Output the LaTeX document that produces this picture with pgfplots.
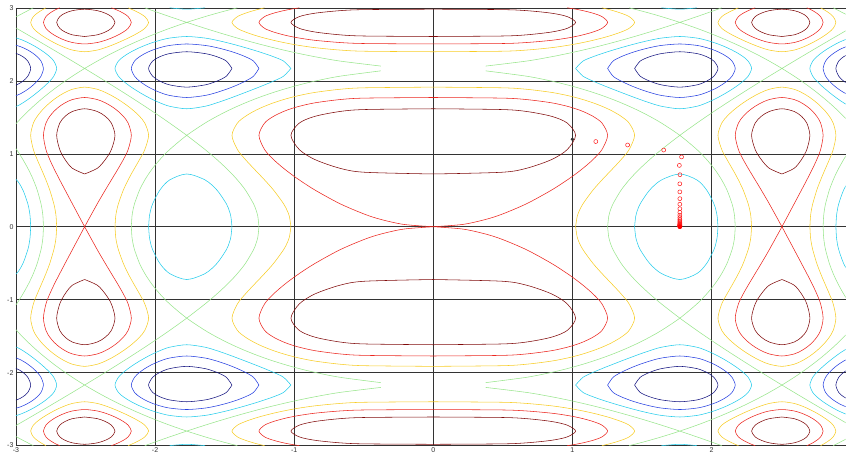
\documentclass[border=0pt]{standalone}
\usepackage{fontspec}
\setmainfont{Liberation Sans}
\usepackage{pgfplots}
\usepackage{pgfplotstable}
\pgfplotsset{compat=1.18}
\definecolor{lvA}{rgb}{0.08,0.08,0.5}
\definecolor{lvB}{rgb}{0.15,0.25,0.88}
\definecolor{lvC}{rgb}{0.15,0.8,0.92}
\definecolor{lvD}{rgb}{0.6,0.9,0.55}
\definecolor{lvE}{rgb}{0.97,0.8,0.15}
\definecolor{lvF}{rgb}{0.92,0.15,0.12}
\definecolor{lvG}{rgb}{0.5,0.04,0.04}

% level 1.5
\pgfplotstableread{
x y
0 0.72360
0.49552 0.74743
0.67159 0.80218
0.85014 0.92090
0.96296 1.05819
1.02333 1.25331
0.96296 1.42191
0.85014 1.51444
0.67159 1.58054
0.49552 1.60715
0 1.61802
nan nan
0 2.60898
0.49552 2.61569
0.67159 2.63186
0.85014 2.67044
0.96296 2.72084
1.02333 2.80250
0.96296 2.88184
0.85014 2.92860
0.67159 2.96332
0.49552 2.97760
0 2.98349
nan nan
2.50663 0.72360
2.41499 0.80218
2.35806 0.92090
2.31428 1.05819
2.28823 1.25331
2.31428 1.42191
2.35806 1.51444
2.41499 1.58054
2.50663 1.61802
2.59504 1.58054
2.64687 1.51444
2.68524 1.42191
2.70747 1.25331
2.68524 1.05819
2.64687 0.92090
2.59504 0.80218
2.50663 0.72360
nan nan
2.50663 2.60898
2.41499 2.63186
2.35806 2.67044
2.31428 2.72084
2.28823 2.80250
2.31428 2.88184
2.35806 2.92860
2.41499 2.96332
2.50663 2.98349
2.59504 2.96332
2.64687 2.92860
2.68524 2.88184
2.70747 2.80250
2.68524 2.72084
2.64687 2.67044
2.59504 2.63186
2.50663 2.60898
}\levG

% level -1.5
\pgfplotstableread{
x y
1.44720 2.17080
1.48805 2.27232
1.55527 2.33134
1.64030 2.37480
1.77245 2.39991
1.89542 2.37480
1.96578 2.33134
2.01715 2.27232
2.04666 2.17080
2.01715 2.06431
1.96578 1.99741
1.89542 1.94553
1.77245 1.91447
1.64030 1.94553
1.55527 1.99741
1.48805 2.06431
1.44720 2.17080
nan nan
3.06998 1.91447
2.99562 1.94553
2.94992 1.99741
2.91505 2.06431
2.89440 2.17080
2.91505 2.27232
2.94992 2.33134
2.99562 2.37480
3.06998 2.39991
}\levA

% level 1
\pgfplotstableread{
x y
0 0
0.21148 0.03162
0.37622 0.10000
0.49552 0.17322
0.67159 0.31650
0.85014 0.50267
0.96296 0.64150
1.02333 0.72360
1.07670 0.80218
1.14810 0.92090
1.21270 1.05819
1.25331 1.25331
1.21270 1.42191
1.14810 1.51444
1.07670 1.58054
1.02333 1.61802
0.96296 1.65229
0.85014 1.69968
0.67159 1.74397
0.49552 1.76397
0 1.77245
nan nan
0 2.50663
0.49552 2.51261
0.67159 2.52653
0.85014 2.55654
0.96296 2.58741
1.02333 2.60898
1.07670 2.63186
1.14810 2.67044
1.21270 2.72084
1.25331 2.80250
1.21270 2.88184
1.14810 2.92860
1.07670 2.96332
1.02333 2.98349
0.96296 3.00221
nan nan
2.50663 0
2.41499 0.31650
2.35806 0.50267
2.31428 0.64150
2.28823 0.72360
2.26361 0.80218
2.22825 0.92090
2.19376 1.05819
2.17080 1.25331
2.19376 1.42191
2.22825 1.51444
2.26361 1.58054
2.28823 1.61802
2.31428 1.65229
2.35806 1.69968
2.41499 1.74397
2.50663 1.77245
2.59504 1.74397
2.64687 1.69968
2.68524 1.65229
2.70747 1.61802
2.72809 1.58054
2.75705 1.51444
2.78457 1.42191
2.80250 1.25331
2.78457 1.05819
2.75705 0.92090
2.72809 0.80218
2.70747 0.72360
2.68524 0.64150
2.64687 0.50267
2.59504 0.31650
2.50663 0
nan nan
2.31428 3.00221
2.28823 2.98349
2.26361 2.96332
2.22825 2.92860
2.19376 2.88184
2.17080 2.80250
2.19376 2.72084
2.22825 2.67044
2.26361 2.63186
2.28823 2.60898
2.31428 2.58741
2.35806 2.55654
2.41499 2.52653
2.50663 2.50663
2.59504 2.52653
2.64687 2.55654
2.68524 2.58741
2.70747 2.60898
2.72809 2.63186
2.75705 2.67044
2.78457 2.72084
2.80250 2.80250
2.78457 2.88184
2.75705 2.92860
2.72809 2.96332
2.70747 2.98349
2.68524 3.00221
}\levF

% level -1
\pgfplotstableread{
x y
1.25331 2.17080
1.29266 2.27232
1.35036 2.33134
1.40795 2.37480
1.44720 2.39991
1.48805 2.42315
1.55527 2.45571
1.64030 2.48657
1.77245 2.50663
1.89542 2.48657
1.96578 2.45571
2.01715 2.42315
2.04666 2.39991
2.07386 2.37480
2.11180 2.33134
2.14761 2.27232
2.17080 2.17080
2.14761 2.06431
2.11180 1.99741
2.07386 1.94553
2.04666 1.91447
2.01715 1.88497
1.96578 1.84235
1.89542 1.80049
1.77245 1.77245
1.64030 1.80049
1.55527 1.84235
1.48805 1.88497
1.44720 1.91447
1.40795 1.94553
1.35036 1.99741
1.29266 2.06431
1.25331 2.17080
nan nan
3.06998 1.77245
2.99562 1.80049
2.94992 1.84235
2.91505 1.88497
2.89440 1.91447
2.87498 1.94553
2.84722 1.99741
2.82031 2.06431
2.80250 2.17080
2.82031 2.27232
2.84722 2.33134
2.87498 2.37480
2.89440 2.39991
2.91505 2.42315
2.94992 2.45571
2.99562 2.48657
3.06998 2.50663
}\levB

% level 0.5
\pgfplotstableread{
x y
1.02333 0
1.03448 0.14142
1.05073 0.22365
1.07670 0.31650
1.14810 0.50267
1.21270 0.64150
1.25331 0.72360
1.29266 0.80218
1.35036 0.92090
1.40795 1.05819
1.44720 1.25331
1.40795 1.42191
1.35036 1.51444
1.29266 1.58054
1.25331 1.61802
1.21270 1.65229
1.14810 1.69968
1.07670 1.74397
1.02333 1.77245
0.96296 1.80049
0.85014 1.84235
0.67159 1.88497
0.49552 1.90548
0 1.91447
nan nan
0 2.39991
0.49552 2.40706
0.67159 2.42315
0.85014 2.45571
0.96296 2.48657
1.02333 2.50663
1.07670 2.52653
1.14810 2.55654
1.21270 2.58741
1.25331 2.60898
1.29266 2.63186
1.35036 2.67044
1.40795 2.72084
1.44720 2.80250
1.40795 2.88184
1.35036 2.92860
1.29266 2.96332
1.25331 2.98349
1.21270 3.00221
nan nan
2.28823 0
2.28321 0.14142
2.27578 0.22365
2.26361 0.31650
2.22825 0.50267
2.19376 0.64150
2.17080 0.72360
2.14761 0.80218
2.11180 0.92090
2.07386 1.05819
2.04666 1.25331
2.07386 1.42191
2.11180 1.51444
2.14761 1.58054
2.17080 1.61802
2.19376 1.65229
2.22825 1.69968
2.26361 1.74397
2.28823 1.77245
2.31428 1.80049
2.35806 1.84235
2.41499 1.88497
2.50663 1.91447
2.59504 1.88497
2.64687 1.84235
2.68524 1.80049
2.70747 1.77245
2.72809 1.74397
2.75705 1.69968
2.78457 1.65229
2.80250 1.61802
2.82031 1.58054
2.84722 1.51444
2.87498 1.42191
2.89440 1.25331
2.87498 1.05819
2.84722 0.92090
2.82031 0.80218
2.80250 0.72360
2.78457 0.64150
2.75705 0.50267
2.72809 0.31650
2.71795 0.22365
2.71171 0.14142
2.70747 0
nan nan
2.19376 3.00221
2.17080 2.98349
2.14761 2.96332
2.11180 2.92860
2.07386 2.88184
2.04666 2.80250
2.07386 2.72084
2.11180 2.67044
2.14761 2.63186
2.17080 2.60898
2.19376 2.58741
2.22825 2.55654
2.26361 2.52653
2.28823 2.50663
2.31428 2.48657
2.35806 2.45571
2.41499 2.42315
2.50663 2.39991
2.59504 2.42315
2.64687 2.45571
2.68524 2.48657
2.70747 2.50663
2.72809 2.52653
2.75705 2.55654
2.78457 2.58741
2.80250 2.60898
2.82031 2.63186
2.84722 2.67044
2.87498 2.72084
2.89440 2.80250
2.87498 2.88184
2.84722 2.92860
2.82031 2.96332
2.80250 2.98349
2.78457 3.00221
}\levE

% level -0.5
\pgfplotstableread{
x y
1.44720 0
1.45522 0.14142
1.46736 0.22365
1.48805 0.31650
1.55527 0.50267
1.64030 0.64150
1.77245 0.72360
1.89542 0.64150
1.96578 0.50267
2.01715 0.31650
2.03225 0.22365
2.04097 0.14142
2.04666 0
nan nan
1.02333 2.17080
1.07670 2.27232
1.14810 2.33134
1.21270 2.37480
1.25331 2.39991
1.29266 2.42315
1.35036 2.45571
1.40795 2.48657
1.44720 2.50663
1.48805 2.52653
1.55527 2.55654
1.64030 2.58741
1.77245 2.60898
1.89542 2.58741
1.96578 2.55654
2.01715 2.52653
2.04666 2.50663
2.07386 2.48657
2.11180 2.45571
2.14761 2.42315
2.17080 2.39991
2.19376 2.37480
2.22825 2.33134
2.26361 2.27232
2.28823 2.17080
2.26361 2.06431
2.22825 1.99741
2.19376 1.94553
2.17080 1.91447
2.14761 1.88497
2.11180 1.84235
2.07386 1.80049
2.04666 1.77245
2.01715 1.74397
1.96578 1.69968
1.89542 1.65229
1.77245 1.61802
1.64030 1.65229
1.55527 1.69968
1.48805 1.74397
1.44720 1.77245
1.40795 1.80049
1.35036 1.84235
1.29266 1.88497
1.25331 1.91447
1.21270 1.94553
1.14810 1.99741
1.07670 2.06431
1.02333 2.17080
nan nan
1.64030 3.00221
1.77245 2.98349
1.89542 3.00221
nan nan
3.06998 0.72360
2.99562 0.64150
2.94992 0.50267
2.91505 0.31650
2.90454 0.22365
2.89842 0.14142
2.89440 0
nan nan
3.06998 1.61802
2.99562 1.65229
2.94992 1.69968
2.91505 1.74397
2.89440 1.77245
2.87498 1.80049
2.84722 1.84235
2.82031 1.88497
2.80250 1.91447
2.78457 1.94553
2.75705 1.99741
2.72809 2.06431
2.70747 2.17080
2.72809 2.27232
2.75705 2.33134
2.78457 2.37480
2.80250 2.39991
2.82031 2.42315
2.84722 2.45571
2.87498 2.48657
2.89440 2.50663
2.91505 2.52653
2.94992 2.55654
2.99562 2.58741
3.06998 2.60898
}\levC

% level 0
\pgfplotstableread{
x y
1.25331 0
1.26127 0.14142
1.27311 0.22365
1.29266 0.31650
1.35036 0.50267
1.40795 0.64150
1.44720 0.72360
1.48805 0.80218
1.55527 0.92090
1.64030 1.05819
1.77245 1.25331
1.89542 1.42191
1.96578 1.51444
2.01715 1.58054
2.04666 1.61802
2.07386 1.65229
2.11180 1.69968
2.14761 1.74397
2.17080 1.77245
2.19376 1.80049
2.22825 1.84235
2.26361 1.88497
2.28823 1.91447
2.31428 1.94553
2.35806 1.99741
2.41499 2.06431
2.50663 2.17080
2.59504 2.27232
2.64687 2.33134
2.68524 2.37480
2.70747 2.39991
2.72809 2.42315
2.75705 2.45571
2.78457 2.48657
2.80250 2.50663
2.82031 2.52653
2.84722 2.55654
2.87498 2.58741
2.89440 2.60898
2.91505 2.63186
2.94992 2.67044
2.99562 2.72084
3.06998 2.80250
nan nan
0.37622 2.13796
0.67159 2.06431
0.85014 1.99741
0.96296 1.94553
1.02333 1.91447
1.07670 1.88497
1.14810 1.84235
1.21270 1.80049
1.25331 1.77245
1.29266 1.74397
1.35036 1.69968
1.40795 1.65229
1.44720 1.61802
1.48805 1.58054
1.55527 1.51444
1.64030 1.42191
1.77245 1.25331
1.89542 1.05819
1.96578 0.92090
2.01715 0.80218
2.04666 0.72360
2.07386 0.64150
2.11180 0.50267
2.14761 0.31650
2.15925 0.22365
2.16619 0.14142
2.17080 0
nan nan
0.37622 2.20316
0.67159 2.27232
0.85014 2.33134
0.96296 2.37480
1.02333 2.39991
1.07670 2.42315
1.14810 2.45571
1.21270 2.48657
1.25331 2.50663
1.29266 2.52653
1.35036 2.55654
1.40795 2.58741
1.44720 2.60898
1.48805 2.63186
1.55527 2.67044
1.64030 2.72084
1.77245 2.80250
1.89542 2.88184
1.96578 2.92860
2.01715 2.96332
2.04666 2.98349
2.07386 3.00221
nan nan
1.40795 3.00221
1.44720 2.98349
1.48805 2.96332
1.55527 2.92860
1.64030 2.88184
1.77245 2.80250
1.89542 2.72084
1.96578 2.67044
2.01715 2.63186
2.04666 2.60898
2.07386 2.58741
2.11180 2.55654
2.14761 2.52653
2.17080 2.50663
2.19376 2.48657
2.22825 2.45571
2.26361 2.42315
2.28823 2.39991
2.31428 2.37480
2.35806 2.33134
2.41499 2.27232
2.50663 2.17080
2.59504 2.06431
2.64687 1.99741
2.68524 1.94553
2.70747 1.91447
2.72809 1.88497
2.75705 1.84235
2.78457 1.80049
2.80250 1.77245
2.82031 1.74397
2.84722 1.69968
2.87498 1.65229
2.89440 1.61802
2.91505 1.58054
2.94992 1.51444
2.99562 1.42191
3.06998 1.25331
nan nan
3.06998 1.25331
2.99562 1.05819
2.94992 0.92090
2.91505 0.80218
2.89440 0.72360
2.87498 0.64150
2.84722 0.50267
2.82031 0.31650
2.81141 0.22365
2.80606 0.14142
2.80250 0
nan nan
3.06998 2.80250
2.99562 2.88184
2.94992 2.92860
2.91505 2.96332
2.89440 2.98349
2.87498 3.00221
}\levD

% gradient descent path
\pgfplotstableread{
x y
1.16829 1.16870
1.39701 1.12113
1.65640 1.05190
1.78478 0.95769
1.76913 0.84123
1.77330 0.71338
1.77224 0.58879
1.77251 0.47804
1.77245 0.38492
1.77245 0.30878
1.77245 0.24730
1.77245 0.19793
1.77245 0.15838
1.77245 0.12671
1.77245 0.10137
1.77245 0.08110
1.77245 0.06488
1.77245 0.05190
1.77245 0.04152
1.77245 0.03322
1.77245 0.02657
1.77245 0.02126
1.77245 0.01701
1.77245 0.01361
1.77245 0.01088
1.77245 0.00871
1.77245 0.00697
1.77245 0.00557
1.77245 0.00446
1.77245 0.00357
}\gdpath

\pgfplotsset{
  ct/.style={smooth, no markers, line width=0.55pt, unbounded coords=jump, forget plot},
}
\newcommand\fourfold[2]{%
  \addplot[ct,#1] table[x=x,y=y] {#2};
  \addplot[ct,#1] table[x expr=-\thisrow{x},y=y] {#2};
  \addplot[ct,#1] table[x=x,y expr=-\thisrow{y}] {#2};
  \addplot[ct,#1] table[x expr=-\thisrow{x},y expr=-\thisrow{y}] {#2};
}

\begin{document}
\begin{tikzpicture}
\begin{axis}[
  x=139.25pt, y=73pt,
  xmin=-3, xmax=2.965, ymin=-3, ymax=3,
  axis line style={draw=none},
  xtick={-3,-2,-1,0,1,2},
  ytick={-3,-2,-1,0,1,2,3},
  major tick length=0pt,
  grid=major,
  major grid style={draw=black!80, line width=0.6pt},
  tick label style={font=\fontsize{7}{8}\selectfont, text=black!80},
  /pgf/number format/assume math mode=true,
  xticklabel style={yshift=1pt},
  yticklabel style={xshift=1pt},
  clip=true,
]
\fourfold{lvD}{\levD}
\fourfold{lvC}{\levC}
\fourfold{lvE}{\levE}
\fourfold{lvB}{\levB}
\fourfold{lvF}{\levF}
\fourfold{lvA}{\levA}
\fourfold{lvG}{\levG}
\addplot[only marks, mark=o, mark size=2pt, color=red!90!white, mark options={line width=0.5pt}] table {\gdpath};
\addplot[only marks, mark=*, mark size=2pt, color=red] coordinates {(1.77245,0.0008)};
\addplot[only marks, mark=*, mark size=1.4pt, color=black!80] coordinates {(1.0,1.2)};
\coordinate (sw) at (axis cs:-3,-3);
\coordinate (ne) at (axis cs:2.965,3);
\end{axis}
\path ([shift={(-16pt,-10pt)}]sw) rectangle ([shift={(0pt,8pt)}]ne);
\end{tikzpicture}
\end{document}
